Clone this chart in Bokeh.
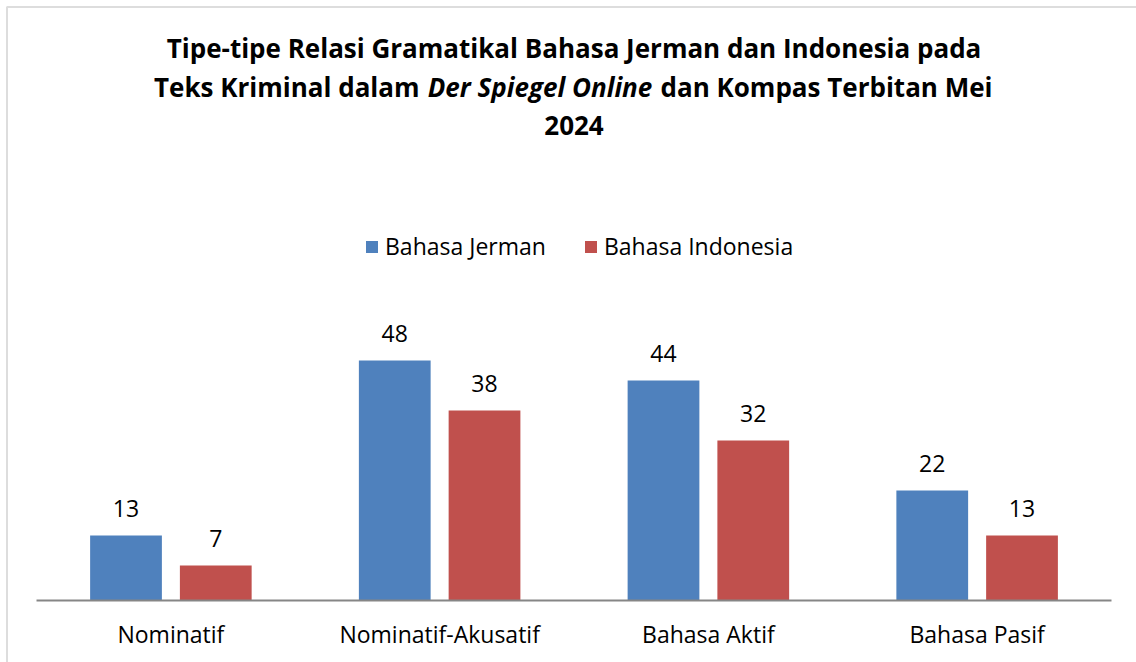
from bokeh.plotting import figure
from bokeh.models import (ColumnDataSource, Range1d, LabelSet, Label,
                          Legend, LegendItem, BoxAnnotation)
from bokeh.core.properties import value
from bokeh.transform import dodge
from bokeh.embed import file_html
from bokeh.resources import INLINE

# ---- data ----
categories = ["Nominatif", "Nominatif-Akusatif", "Bahasa Aktif", "Bahasa Pasif"]
bahasa_jerman = [13, 48, 44, 22]
bahasa_indonesia = [7, 38, 32, 13]
series_names = ["Bahasa Jerman", "Bahasa Indonesia"]
title_line1 = "Tipe-tipe Relasi Gramatikal Bahasa Jerman dan Indonesia pada"
title_line2 = ["Teks Kriminal dalam", "Der Spiegel Online", "dan Kompas Terbitan Mei"]
title_line3 = "2024"

FONT = "Open Sans"
BLUE = "#4F81BD"
RED = "#C0504D"

n = len(categories)
source = ColumnDataSource(dict(
    cat=categories,
    xc=[i + 0.5 for i in range(n)],
    jerman=bahasa_jerman,
    indonesia=bahasa_indonesia,
    jerman_txt=[str(v) for v in bahasa_jerman],
    indonesia_txt=[str(v) for v in bahasa_indonesia],
))

W, H = 1136, 662
p = figure(width=W, height=H, output_backend="svg", toolbar_location=None,
           x_range=Range1d(-0.134, n + 0.093),
           y_range=Range1d(-12.4, 120),
           x_axis_location=None, y_axis_location=None,
           min_border=0)
p.title = None
p.outline_line_color = None
p.background_fill_color = "white"
p.border_fill_color = "white"
p.xgrid.grid_line_color = None
p.ygrid.grid_line_color = None

off = 0.167
bw = 0.267
r1 = p.vbar(x=dodge("xc", -off), top="jerman", width=bw, bottom=0,
            source=source, fill_color=BLUE, line_color=None)
r2 = p.vbar(x=dodge("xc", off), top="indonesia", width=bw, bottom=0,
            source=source, fill_color=RED, line_color=None)

# category axis line
p.segment(x0=0, x1=n, y0=0, y1=0, line_color="#868686", line_width=2)

# value labels
for field, txt, o in (("jerman", "jerman_txt", -off), ("indonesia", "indonesia_txt", off)):
    p.add_layout(LabelSet(x=dodge("xc", o), y=field, text=txt,
                          source=source, text_align="center", text_baseline="alphabetic",
                          y_offset=19, text_font=value(FONT), text_font_size=value("23px"),
                          text_color="black"))

# category labels
p.add_layout(LabelSet(x="xc", y=0, text="cat", source=source, text_align="center",
                      text_baseline="alphabetic", y_offset=-42, text_font=value(FONT),
                      text_font_size=value("23px"), text_color="black"))

legend = Legend(items=[LegendItem(label=series_names[0], renderers=[r1]),
                       LegendItem(label=series_names[1], renderers=[r2])],
                orientation="horizontal", location=(364, 400),
                glyph_width=15, glyph_height=15, label_standoff=6, spacing=37,
                padding=0, margin=0, border_line_color=None,
                background_fill_alpha=0, label_text_font=FONT,
                label_text_font_size="23px", label_text_color="black")
p.add_layout(legend, "center")

# title (screen units, frame == canvas, y measured from bottom)
common = dict(x_units="screen", y_units="screen", text_font=FONT,
              text_font_size="26px", text_font_style="bold", text_color="black",
              text_baseline="alphabetic")
p.add_layout(Label(x=573.5, y=615, text=title_line1, text_align="center", **common))
p.add_layout(Label(x=419, y=576, text=title_line2[0], text_align="right", **common))
p.add_layout(Label(x=539.5, y=576, text=title_line2[1], text_align="center",
                   **{**common, "text_font_style": "bold italic"}))
p.add_layout(Label(x=660, y=576, text=title_line2[2], text_align="left", **common))
p.add_layout(Label(x=573.5, y=537, text=title_line3, text_align="center", **common))

# chart border
p.add_layout(BoxAnnotation(left=6.5, right=1400, top=655.5, bottom=-100,
                           left_units="screen", right_units="screen",
                           top_units="screen", bottom_units="screen",
                           fill_alpha=0, line_color="#8e8e8e", line_width=2))

open("out.html", "w").write(file_html(p, INLINE))
